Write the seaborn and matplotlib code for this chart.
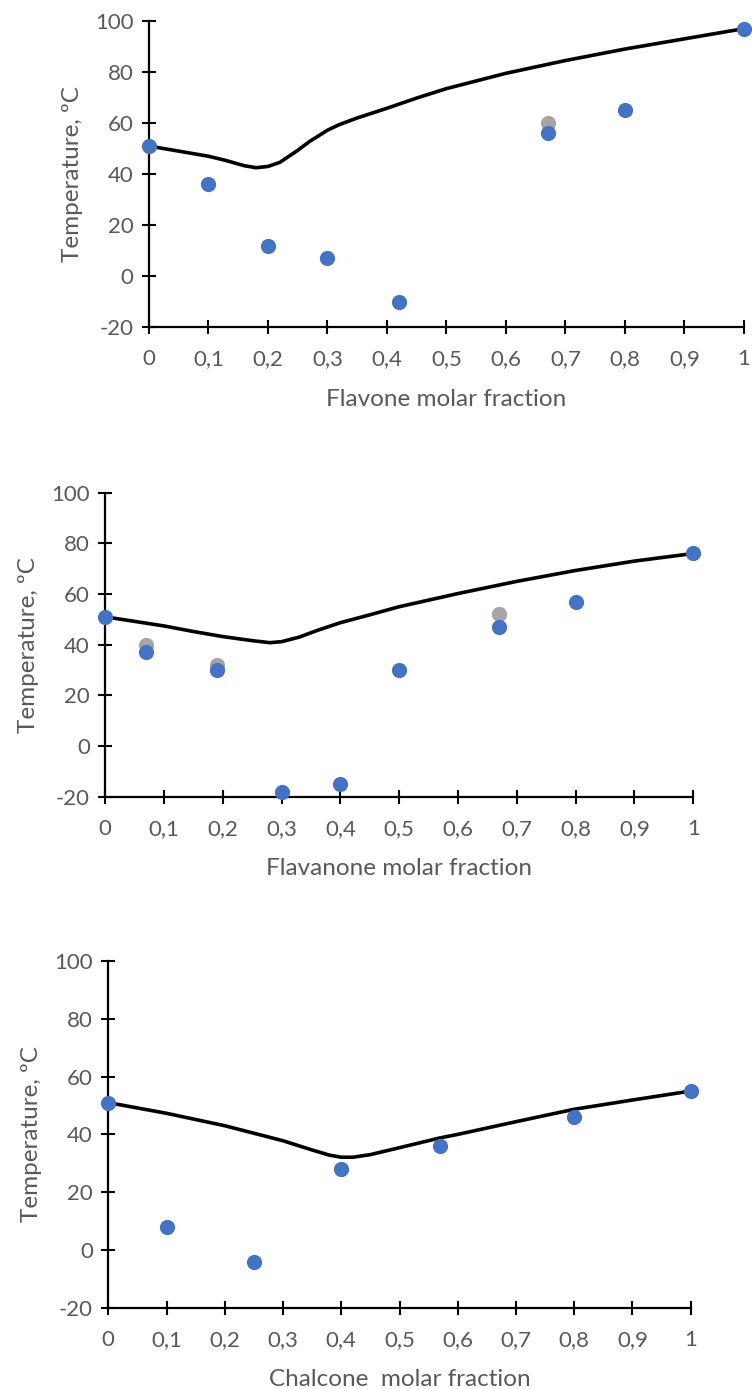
import numpy as np
import matplotlib
matplotlib.use("Agg")
import matplotlib.pyplot as plt
import seaborn as sns

# ---- data ----
x_ticks = [0, 0.1, 0.2, 0.3, 0.4, 0.5, 0.6, 0.7, 0.8, 0.9, 1]
x_tick_labels = ["0", "0,1", "0,2", "0,3", "0,4", "0,5", "0,6", "0,7", "0,8", "0,9", "1"]
y_ticks = [-20, 0, 20, 40, 60, 80, 100]
y_tick_labels = ["-20", "0", "20", "40", "60", "80", "100"]

# flavone
fl_x = [0, 0.1, 0.2, 0.3, 0.42, 0.67, 0.8, 1]
fl_y = [51, 36, 12, 7, -10, 56, 65, 97]
fl_gray_x = [0.67]
fl_gray_y = [60]
fl_line_x = [0, 0.05, 0.1, 0.13, 0.16, 0.18, 0.2, 0.22, 0.25, 0.27, 0.3, 0.32, 0.35,
             0.4, 0.45, 0.5, 0.6, 0.7, 0.8, 0.9, 1]
fl_line_y = [51, 49, 47, 45.3, 43.3, 42.5, 43, 44.6, 49.3, 52.8, 57.2, 59.4, 62,
             65.8, 69.8, 73.5, 79.5, 84.5, 89, 93, 97]

# flavanone
fn_x = [0, 0.07, 0.19, 0.3, 0.4, 0.5, 0.67, 0.8, 1]
fn_y = [51, 37, 30, -18, -15, 30, 47, 57, 76]
fn_gray_x = [0.07, 0.19, 0.67]
fn_gray_y = [40, 32, 52]
fn_line_x = [0, 0.1, 0.15, 0.2, 0.25, 0.28, 0.3, 0.33, 0.36, 0.4, 0.45, 0.5, 0.6, 0.7, 0.8, 0.9, 1]
fn_line_y = [51, 47.4, 45.2, 43.2, 41.6, 40.8, 41.2, 43, 45.6, 48.7, 51.8, 55, 60.2, 65, 69.3, 73, 76]

# chalcone
ch_x = [0, 0.1, 0.25, 0.4, 0.57, 0.8, 1]
ch_y = [51, 8, -4, 28, 36, 46, 55]
ch_line_x = [0, 0.1, 0.2, 0.3, 0.35, 0.38, 0.4, 0.42, 0.45, 0.5, 0.57, 0.6, 0.7, 0.8, 0.9, 1]
ch_line_y = [51, 47.3, 43, 37.8, 34.6, 32.8, 32.1, 32.1, 33, 35.4, 38.8, 40, 44.4, 48.7, 51.9, 55]

sns.set_style("white")
plt.rcParams['font.family'] = ['Lato', 'DejaVu Sans']
plt.rcParams['axes.unicode_minus'] = False

BLUE = "#4472C4"
GRAY = "#A5A5A5"
TXT = "#595959"

fig = plt.figure(figsize=(7.52, 13.89), dpi=100)

panels = [
    ([0.1981, 0.7644, 0.7912, 0.2205], fl_x, fl_y, fl_gray_x, fl_gray_y, fl_line_x, fl_line_y, "Flavone molar fraction"),
    ([0.1400, 0.4264, 0.7819, 0.2189], fn_x, fn_y, fn_gray_x, fn_gray_y, fn_line_x, fn_line_y, "Flavanone molar fraction"),
    ([0.1440, 0.0585, 0.7745, 0.2496], ch_x, ch_y, [], [], ch_line_x, ch_line_y, "Chalcone  molar fraction"),
]

for rect, px, py, gx, gy, lx, ly, xlab in panels:
    ax = fig.add_axes(rect)
    sns.lineplot(x=lx, y=ly, ax=ax, color="black", linewidth=2.6, sort=False,
                 estimator=None, zorder=2)
    if gx:
        sns.scatterplot(x=gx, y=gy, ax=ax, color=GRAY, s=120, linewidth=0,
                        zorder=3, clip_on=False)
    sns.scatterplot(x=px, y=py, ax=ax, color=BLUE, s=120, linewidth=0,
                    zorder=4, clip_on=False)

    ax.set_xlim(0, 1)
    ax.set_ylim(-20, 100)
    ax.set_xticks(x_ticks)
    ax.set_xticklabels(x_tick_labels)
    ax.set_yticks(y_ticks)
    ax.set_yticklabels(y_tick_labels)
    for s in ["top", "right"]:
        ax.spines[s].set_visible(False)
    for s in ["left", "bottom"]:
        ax.spines[s].set_color("black")
        ax.spines[s].set_linewidth(1.6)
    ax.tick_params(axis="both", direction="inout", length=10, width=1.5,
                   bottom=True, left=True,
                   color="black", labelcolor=TXT, labelsize=16)
    ax.tick_params(axis="x", pad=11)
    ax.tick_params(axis="y", pad=6)
    ax.set_xlabel(xlab, fontsize=17.5, color=TXT, labelpad=14)
    ax.set_ylabel("Temperature, ºC", fontsize=17.5, color=TXT, labelpad=9)
    ax.grid(False)

fig.savefig("out.png", dpi=100)
